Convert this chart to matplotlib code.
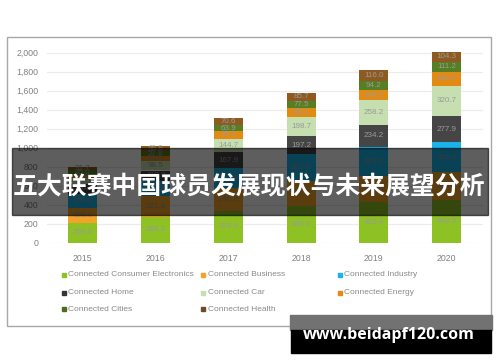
import matplotlib
matplotlib.use("Agg")
import matplotlib.pyplot as plt
from matplotlib.patches import Rectangle

years = ["2015", "2016", "2017", "2018", "2019", "2020"]

consumer_electronics = [209.0, 268.2, 331.0, 385.5, 425.4, 449.5]
business = [158.1, 221.8, 240.0, 262.0, 278.0, 290.0]
industry = [150.0, 160.0, 212.0, 282.0, 305.0, 316.0]
home = [100.0, 110.0, 167.9, 197.2, 234.2, 277.9]
car = [60.0, 98.5, 144.7, 198.7, 258.2, 320.7]
energy = [40.0, 50.0, 78.5, 88.1, 104.3, 140.2]
cities = [45.0, 57.8, 63.9, 77.5, 94.2, 111.2]
health = [31.7, 46.8, 70.6, 85.7, 116.0, 104.3]

series_names = ["Connected Consumer Electronics", "Connected Business", "Connected Industry",
                "Connected Home", "Connected Car", "Connected Energy",
                "Connected Cities", "Connected Health"]
series = [consumer_electronics, business, industry, home, car, energy, cities, health]
colors = ["#8dc124", "#f5a328", "#1ab2e8", "#454545", "#c6dfb0", "#e38a12", "#557f22", "#8e5a1f"]
legend_colors = ["#8dc124", "#f5a328", "#1ab2e8", "#333333", "#c6dfb0", "#e38a12", "#4f6b22", "#6b4c2a"]

title = "五大联赛中国球员发展现状与未来展望分析"
watermark = "www.beidapf120.com"

W, H = 500, 362
fig = plt.figure(figsize=(W / 100, H / 100), dpi=100)
fig.patch.set_facecolor("white")

def fx(px):
    return px / W

def fy(py):
    return 1 - py / H

# chart frame
fig.patches.append(Rectangle((fx(7), fy(326)), fx(491) - fx(7), fy(37) - fy(326),
                             transform=fig.transFigure, fill=False,
                             edgecolor="#a8a8a8", linewidth=1.0, zorder=0))

ax = fig.add_axes([fx(46.5), fy(242.7), fx(483) - fx(46.5), fy(43.2) - fy(242.7)])
ax.set_facecolor("none")
x = list(range(len(years)))
bottom = [0.0] * len(years)
for vals, col in zip(series, colors):
    bars = ax.bar(x, vals, width=0.4, bottom=bottom, color=col, zorder=2)
    for b, v, b0 in zip(bars, vals, bottom):
        ax.text(b.get_x() + b.get_width() / 2, b0 + v / 2, f"{v:.1f}",
                ha="center", va="center", fontsize=5.8, color="#9a9a9a",
                family="Liberation Sans", zorder=3)
    bottom = [b0 + v for b0, v in zip(bottom, vals)]

ax.set_xlim(-0.5, 5.5)
ax.set_ylim(0, 2100)
ax.set_yticks(range(0, 2001, 200))
ax.set_yticklabels([f"{v:,}" for v in range(0, 2001, 200)])
ax.set_xticks(x)
ax.set_xticklabels(years)
ax.tick_params(length=0, labelsize=6.3, labelcolor="#808080", pad=6)
ax.tick_params(axis="x", pad=8)
for lab in ax.get_xticklabels() + ax.get_yticklabels():
    lab.set_family("Liberation Sans")
ax.grid(axis="y", color="#ebebeb", linewidth=0.8, zorder=0)
for s in ax.spines.values():
    s.set_visible(False)

# legend, 3 columns
col_x = [64, 203, 340]
row_y = [275, 292.5, 309.3]
for i, (name, col) in enumerate(zip(series_names, legend_colors)):
    cx, ry = col_x[i % 3], row_y[i // 3]
    fig.patches.append(Rectangle((fx(cx - 2), fy(ry + 2)), fx(4), 4 / H,
                                 transform=fig.transFigure, color=col))
    fig.text(fx(cx + 4.5), fy(ry), name, fontsize=6.0, color="#8a8a8a",
             family="Liberation Sans", ha="left", va="center")

# title band
fig.patches.append(Rectangle((fx(12), fy(215)), fx(488) - fx(12), fy(148) - fy(215),
                             transform=fig.transFigure, color="black", alpha=0.63, zorder=10))
fig.text(fx(248.5), fy(186), title, fontsize=17.9, color="white", fontweight="bold",
         family=["Noto Sans CJK SC", "DejaVu Sans"], ha="center", va="center", zorder=11)

# watermark
fig.patches.append(Rectangle((fx(290), fy(330)), fx(492) - fx(290), fy(315) - fy(330),
                             transform=fig.transFigure, color="#727272", zorder=10))
fig.patches.append(Rectangle((fx(291), fy(353)), fx(491) - fx(291), fy(330) - fy(353),
                             transform=fig.transFigure, color="black", zorder=10))
fig.text(fx(389), fy(335), watermark, fontsize=11.5, color="white", fontweight="bold",
         family="Open Sans", ha="center", va="center", zorder=11)

fig.savefig("out.png", dpi=100)
